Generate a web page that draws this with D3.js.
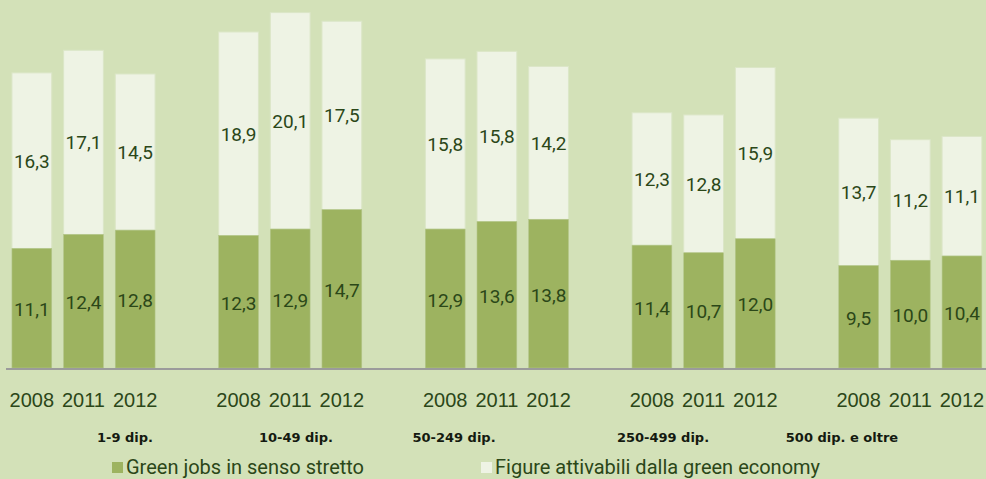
<!DOCTYPE html>
<html>
<head>
<meta charset="utf-8">
<script src="https://cdn.jsdelivr.net/npm/d3@7"></script>
<style>
  html, body { margin: 0; padding: 0; background: #d3e1b8; }
  svg { display: block; }
</style>
</head>
<body>
<svg id="chart" width="986" height="479"></svg>
<script>
// Company size classes and survey years
const groups = ["1-9 dip.", "10-49 dip.", "50-249 dip.", "250-499 dip.", "500 dip. e oltre"];
const years = ["2008", "2011", "2012"];

// Green jobs in senso stretto, per class (2008, 2011, 2012)
const greenJobs = [
  [11.1, 12.4, 12.8],
  [12.3, 12.9, 14.7],
  [12.9, 13.6, 13.8],
  [11.4, 10.7, 12.0],
  [9.5, 10.0, 10.4]
];
// Figure attivabili dalla green economy, per class (2008, 2011, 2012)
const attivabili = [
  [16.3, 17.1, 14.5],
  [18.9, 20.1, 17.5],
  [15.8, 15.8, 14.2],
  [12.3, 12.8, 15.9],
  [13.7, 11.2, 11.1]
];

const legendLabels = ["Green jobs in senso stretto", "Figure attivabili dalla green economy"];

// Layout
const W = 986, H = 479;
const baseY = 368;
const groupLabelX = [125, 296, 454, 663, 842];
const colors = { green: "#9db360", light: "#eef3e4", text: "#2b4718", axis: "#9b9b9b", edge: "#dbe6c7" };

const svg = d3.select("#chart");

const xGroup = d3.scaleBand().domain(groups).range([6, 6 + 5 * 206.7]);
const xYear = d3.scaleBand().domain(years).range([0, 155]).paddingInner(0.23).paddingOuter(0.115);
const y = d3.scaleLinear().domain([0, 34]).range([baseY, baseY - 34 * 10.77]);

const fmt = v => d3.format(".1f")(v).replace(".", ",");

// Build flat rows from the arrays
const rows = [];
groups.forEach((g, gi) => {
  years.forEach((yr, yi) => {
    const a = greenJobs[gi][yi], b = attivabili[gi][yi];
    rows.push({ group: g, year: yr, green: a, light: b, x: xGroup(g) + xYear(yr) });
  });
});

const bw = xYear.bandwidth();

const bars = svg.append("g").selectAll("g").data(rows).join("g");

// Upper segment: Figure attivabili
bars.append("rect")
  .attr("x", d => d.x)
  .attr("y", d => y(d.green + d.light))
  .attr("width", bw)
  .attr("height", d => y(d.green) - y(d.green + d.light))
  .attr("fill", colors.light)
  .attr("stroke", colors.edge)
  .attr("stroke-width", 1);

// Lower segment: Green jobs
bars.append("rect")
  .attr("x", d => d.x)
  .attr("y", d => y(d.green))
  .attr("width", bw)
  .attr("height", d => y(0) - y(d.green))
  .attr("fill", colors.green)
  .attr("stroke", "#b3c68a")
  .attr("stroke-width", 0.6);

// Value labels centred in each segment
const valFont = "Roboto, 'Liberation Sans', sans-serif";
bars.append("text")
  .attr("x", d => d.x + bw / 2)
  .attr("y", d => (y(d.green) + y(d.green + d.light)) / 2 + 7)
  .attr("text-anchor", "middle")
  .attr("font-family", valFont)
  .attr("font-size", 19)
  .attr("fill", colors.text)
  .text(d => fmt(d.light));

bars.append("text")
  .attr("x", d => d.x + bw / 2)
  .attr("y", d => (y(0) + y(d.green)) / 2 + 8)
  .attr("text-anchor", "middle")
  .attr("font-family", valFont)
  .attr("font-size", 19)
  .attr("fill", colors.text)
  .text(d => fmt(d.green));

// Baseline
svg.append("line")
  .attr("x1", 6).attr("x2", W)
  .attr("y1", baseY + 1).attr("y2", baseY + 1)
  .attr("stroke", colors.axis)
  .attr("stroke-width", 2);

// Year labels
svg.append("g").selectAll("text").data(rows).join("text")
  .attr("x", d => d.x + bw / 2)
  .attr("y", 406.5)
  .attr("text-anchor", "middle")
  .attr("font-family", "'Liberation Sans', Arial, sans-serif")
  .attr("font-size", 20)
  .attr("fill", colors.text)
  .text(d => d.year);

// Size class labels
svg.append("g").selectAll("text").data(groups).join("text")
  .attr("x", (d, i) => groupLabelX[i])
  .attr("y", 441.5)
  .attr("text-anchor", "middle")
  .attr("font-family", "'DejaVu Sans', sans-serif")
  .attr("font-weight", "bold")
  .attr("font-size", 13)
  .attr("fill", "#141a10")
  .text(d => d);

// Legend
const legendX = [112, 481];
const legendFill = [colors.green, colors.light];
const leg = svg.append("g").selectAll("g").data(legendLabels).join("g")
  .attr("transform", (d, i) => `translate(${legendX[i]},462)`);
leg.append("rect")
  .attr("width", 11).attr("height", 11)
  .attr("fill", (d, i) => legendFill[i]);
leg.append("text")
  .attr("x", 14)
  .attr("y", 12)
  .attr("font-family", valFont)
  .attr("font-size", 20)
  .attr("fill", colors.text)
  .text(d => d);
</script>
</body>
</html>
